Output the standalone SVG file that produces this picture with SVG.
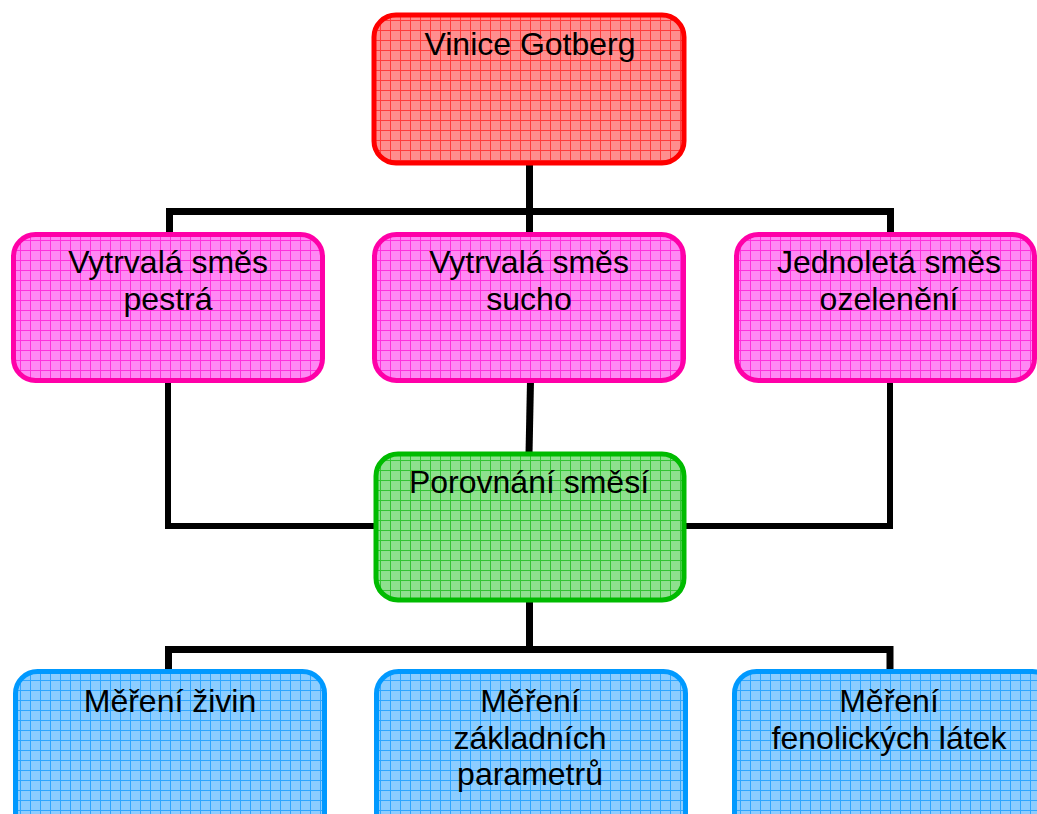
<svg xmlns="http://www.w3.org/2000/svg" width="1037" height="814" viewBox="0 0 1037 814">
<defs>
<pattern id="gRed" patternUnits="userSpaceOnUse" width="10" height="10">
<rect width="10" height="10" fill="#ff8e8e"/>
<path d="M0.5,0V10M0,0.5H10" stroke="#ff3c3c" stroke-width="1"/>
</pattern>
<pattern id="gPink" patternUnits="userSpaceOnUse" width="10" height="10">
<rect width="10" height="10" fill="#ff88f4"/>
<path d="M0.5,0V10M0,0.5H10" stroke="#ff30dc" stroke-width="1"/>
</pattern>
<pattern id="gGreen" patternUnits="userSpaceOnUse" width="10" height="10">
<rect width="10" height="10" fill="#8ee08e"/>
<path d="M0.5,0V10M0,0.5H10" stroke="#33c433" stroke-width="1"/>
</pattern>
<pattern id="gBlue" patternUnits="userSpaceOnUse" width="10" height="10">
<rect width="10" height="10" fill="#8ccdff"/>
<path d="M0.5,0V10M0,0.5H10" stroke="#2ea6ff" stroke-width="1"/>
</pattern>
</defs>
<style>
.box{stroke-width:5}
.red{fill:url(#gRed);stroke:#ff0000}
.pink{fill:url(#gPink);stroke:#ff00a8}
.green{fill:url(#gGreen);stroke:#00bb00}
.blue{fill:url(#gBlue);stroke:#0099ff}
text{font-family:"Liberation Sans",Arial,sans-serif;font-size:32px;fill:#000;text-anchor:middle}
.conn{fill:none;stroke:#000;stroke-width:7;stroke-linejoin:miter}
.conn2{fill:none;stroke:#000;stroke-width:6;stroke-linejoin:miter}
</style>
<rect width="1037" height="814" fill="#fff"/>
<g id="connectors">
<path class="conn" d="M169.5,236V211.5H890.5V236"/>
<path class="conn" d="M529.5,162V236"/>
<path class="conn2" d="M168,381V526H376"/>
<path class="conn2" d="M890,381V526H685"/>
<path class="conn" d="M530.5,381L529,454"/>
<path class="conn" d="M529.5,600V649.5"/>
<path class="conn" d="M168.5,672V649.5H890V672"/>
</g>
<g id="n-vinice"><rect class="box red" x="374" y="15" width="310" height="148" rx="22"/><text x="530" y="55">Vinice Gotberg</text></g>
<g id="n-pestra"><rect class="box pink" x="13.5" y="234.5" width="309" height="146" rx="22"/><text x="168" y="273">Vytrvalá směs</text><text x="168" y="310">pestrá</text></g>
<g id="n-sucho"><rect class="box pink" x="374.5" y="234.5" width="309" height="146" rx="22"/><text x="529" y="273">Vytrvalá směs</text><text x="529" y="310">sucho</text></g>
<g id="n-ozeleneni"><rect class="box pink" x="736.5" y="234.5" width="298" height="146" rx="22"/><text x="889" y="273">Jednoletá směs</text><text x="889" y="310">ozelenění</text></g>
<g id="n-porovnani"><rect class="box green" x="376" y="454" width="308" height="146" rx="22"/><text x="529" y="493">Porovnání směsí</text></g>
<g id="n-ziviny"><rect class="box blue" x="15.5" y="671.5" width="309" height="170" rx="22"/><text x="170" y="712">Měření živin</text></g>
<g id="n-parametry"><rect class="box blue" x="376.5" y="671.5" width="309" height="170" rx="22"/><text x="530" y="712">Měření</text><text x="530" y="748.5">základních</text><text x="530" y="785">parametrů</text></g>
<g id="n-fenoly"><rect class="box blue" x="734.5" y="671.5" width="320" height="170" rx="22"/><text x="889" y="712">Měření</text><text x="889" y="748.5">fenolických látek</text></g>
</svg>
